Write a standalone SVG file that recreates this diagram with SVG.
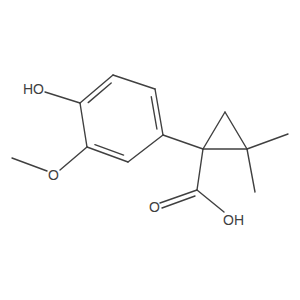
<svg xmlns="http://www.w3.org/2000/svg" width="300" height="300" viewBox="0 0 300 300">
<style>
line{stroke:#404040;stroke-width:1.4;stroke-linecap:round}
text{font-family:"Liberation Sans",Arial,sans-serif;font-size:14px;fill:#404040}
</style>
<rect width="300" height="300" fill="#fff"/>
<g id="bonds">
<line x1="80" y1="103" x2="113" y2="75"/>
<line x1="88.2" y1="102.6" x2="111.2" y2="83"/>
<line x1="113" y1="75" x2="155" y2="89"/>
<line x1="155" y1="89" x2="163" y2="135"/>
<line x1="151.3" y1="96.8" x2="156.9" y2="129"/>
<line x1="163" y1="135" x2="128" y2="162"/>
<line x1="128" y1="162" x2="87" y2="147"/>
<line x1="123.6" y1="155.1" x2="94.9" y2="144.6"/>
<line x1="87" y1="147" x2="80" y2="103"/>
<line x1="80" y1="103" x2="45" y2="92"/>
<line x1="87" y1="147" x2="60" y2="170"/>
<line x1="47" y1="171" x2="12" y2="158"/>
<line x1="163" y1="135" x2="203" y2="149"/>
<line x1="203" y1="149" x2="225" y2="112"/>
<line x1="225" y1="112" x2="247" y2="149"/>
<line x1="203" y1="149" x2="247" y2="149"/>
<line x1="247" y1="149" x2="288" y2="134"/>
<line x1="247" y1="149" x2="255" y2="192"/>
<line x1="203" y1="149" x2="197" y2="190"/>
<line x1="197" y1="190" x2="160" y2="203"/>
<line x1="195" y1="196" x2="162" y2="208"/>
<line x1="197" y1="190" x2="224" y2="212"/>
</g>
<g id="HO"><text x="23" y="94">HO</text></g>
<g id="O1"><text x="48" y="180">O</text></g>
<g id="O2"><text x="149" y="212">O</text></g>
<g id="OH"><text x="223" y="225">OH</text></g>
</svg>
